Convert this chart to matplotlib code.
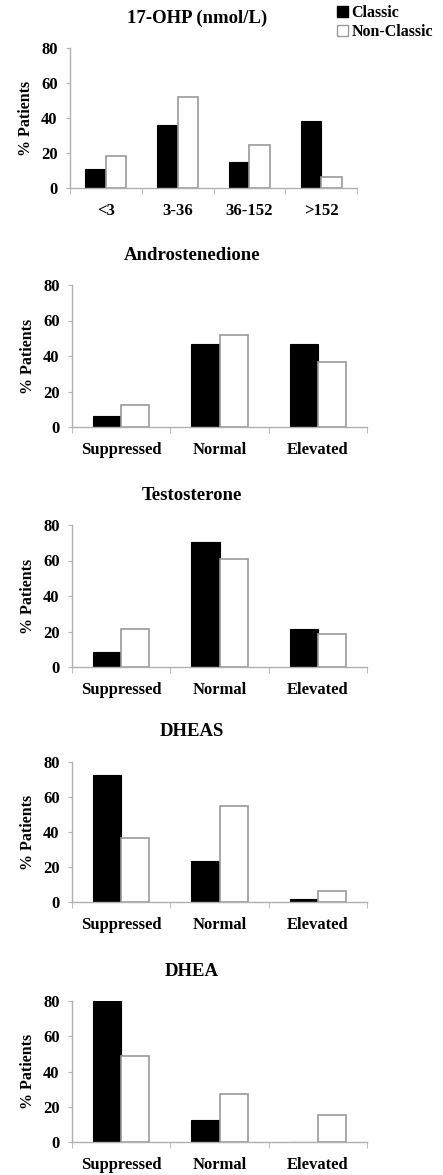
import numpy as np
import matplotlib
matplotlib.use("Agg")
import matplotlib.pyplot as plt
from matplotlib.patches import Patch

plt.rcParams["font.family"] = ["Liberation Serif", "DejaVu Serif"]
plt.rcParams["font.weight"] = "bold"

# data (% of patients)
ohp_cats = ["<3", "3-36", "36-152", ">152"]
ohp_classic = [11, 36, 15, 38.5]
ohp_nonclassic = [18.5, 52, 24.5, 6.3]

level_cats = ["Suppressed", "Normal", "Elevated"]
andro_classic = [6.2, 46.7, 46.7]
andro_nonclassic = [12.6, 51.6, 36.5]
testo_classic = [8.5, 70.2, 21.3]
testo_nonclassic = [21.3, 60.8, 18.6]
dheas_classic = [72.6, 23.5, 1.9]
dheas_nonclassic = [36.8, 55.0, 6.1]
dhea_classic = [80.0, 12.3, 0.0]
dhea_nonclassic = [48.6, 27.0, 15.1]

panels = [
    ("17-OHP (nmol/L)", ohp_cats, ohp_classic, ohp_nonclassic),
    ("Androstenedione", level_cats, andro_classic, andro_nonclassic),
    ("Testosterone", level_cats, testo_classic, testo_nonclassic),
    ("DHEAS", level_cats, dheas_classic, dheas_nonclassic),
    ("DHEA", level_cats, dhea_classic, dhea_nonclassic),
]

# axes boxes in pixels: left, right, top, bottom
W, H = 443, 1175
boxes = [
    (70, 357, 48, 188),
    (72, 367, 285, 427),
    (72, 367, 525, 667),
    (72, 367, 762, 902),
    (72, 367, 1001, 1142),
]
title_x = [197, 192, 192, 192, 192]

fig = plt.figure(figsize=(W / 100, H / 100), dpi=100)
spine_col = "#b0b0b0"
bw = 0.285

for (title, cats, cl, nc), (l, r, t, b), tx in zip(panels, boxes, title_x):
    ax = fig.add_axes([l / W, 1 - b / H, (r - l) / W, (b - t) / H])
    x = np.arange(len(cats))
    ax.bar(x - bw / 2, cl, bw, color="black", edgecolor="black", linewidth=0.8)
    ax.bar(x + bw / 2, nc, bw, color="white", edgecolor="#999999", linewidth=1.2)
    ax.set_xlim(-0.5, len(cats) - 0.5)
    ax.set_ylim(0, 80)
    ax.set_yticks([0, 20, 40, 60, 80])
    ax.set_xticks(x)
    ax.set_xticklabels(cats, fontsize=12, fontweight="bold")
    ax.set_xticks(np.arange(len(cats) + 1) - 0.5, minor=True)
    ax.tick_params(axis="x", which="major", length=0, pad=11)
    ax.tick_params(axis="x", which="minor", length=4, color=spine_col)
    ax.tick_params(axis="y", length=3, color=spine_col, labelsize=12, pad=6)
    for lab in ax.get_yticklabels():
        lab.set_fontweight("bold")
    for s in ["top", "right"]:
        ax.spines[s].set_visible(False)
    for s in ["left", "bottom"]:
        ax.spines[s].set_color(spine_col)
        ax.spines[s].set_linewidth(1.0)
    ax.set_ylabel("% Patients", fontsize=11.5, fontweight="bold", labelpad=5)
    fig.text(tx / W, 1 - (t - 30) / H, title, ha="center", va="center",
             fontsize=13.5, fontweight="bold")

handles = [Patch(facecolor="black", edgecolor="black", label="Classic"),
           Patch(facecolor="white", edgecolor="#999999", label="Non-Classic")]
fig.legend(handles=handles, loc="upper left", bbox_to_anchor=(337 / W, 1 - 5 / H),
           frameon=False, handlelength=0.7, handleheight=0.7, handletextpad=0.2,
           labelspacing=0.2, borderaxespad=0, borderpad=0,
           prop={"size": 11.5, "weight": "bold"})

fig.savefig("out.png", dpi=100)
